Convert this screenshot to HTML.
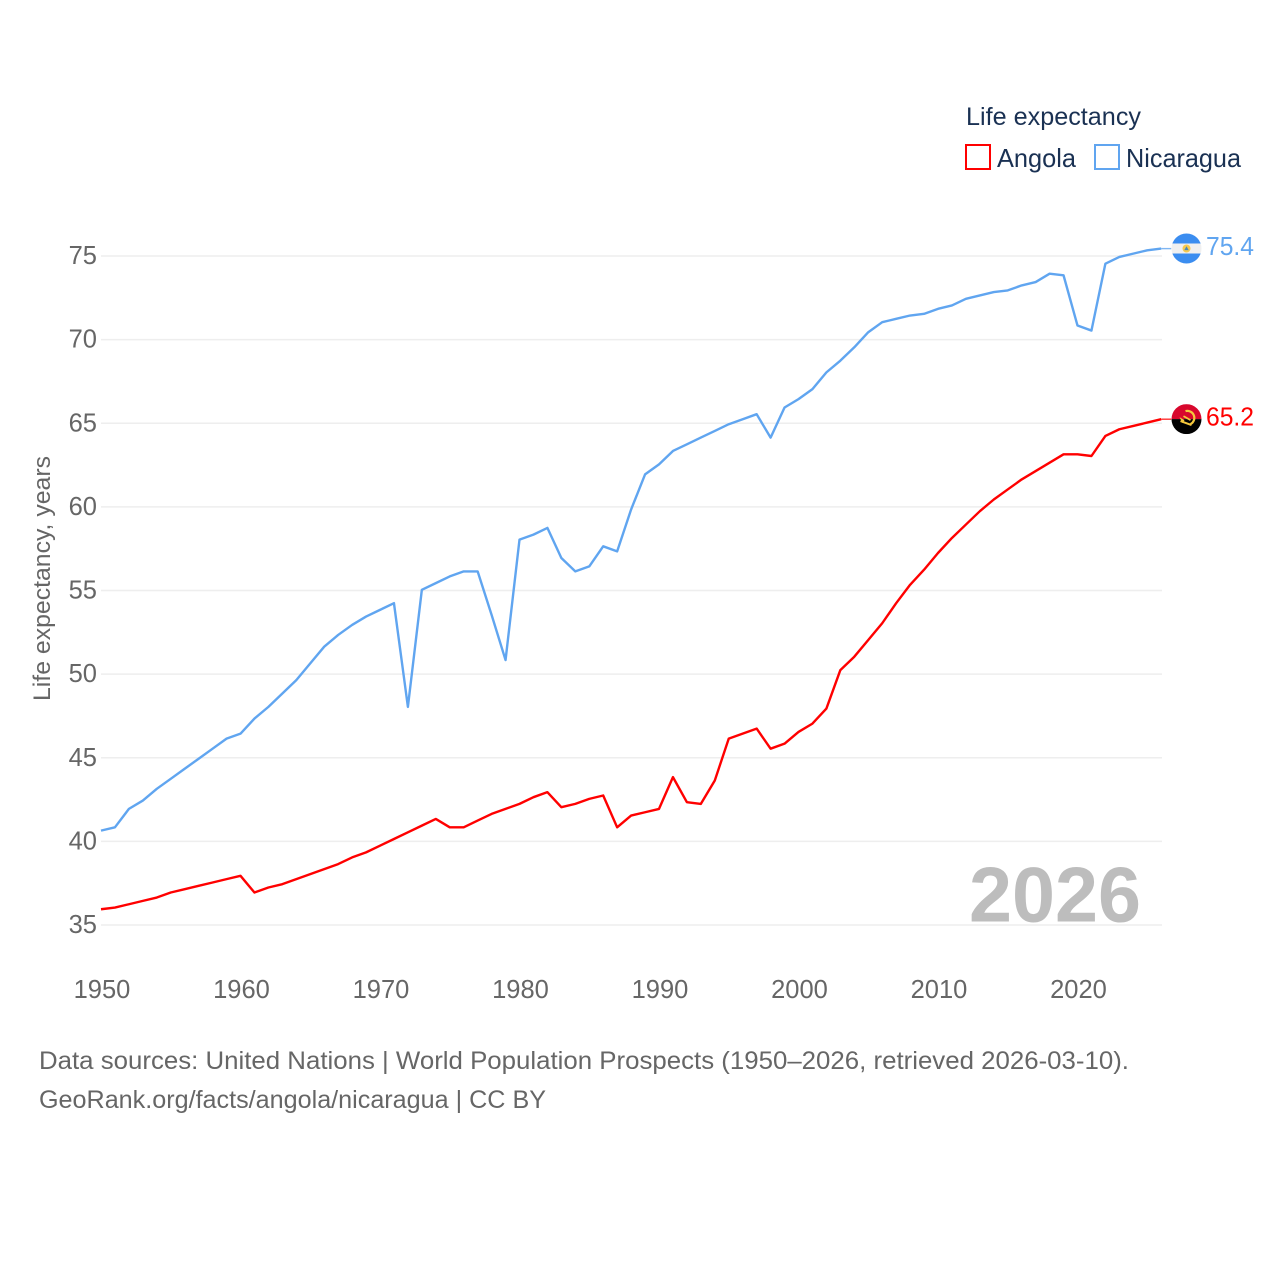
<!DOCTYPE html>
<html lang="en">
<head>
<meta charset="utf-8">
<title>Life expectancy: Angola and Nicaragua</title>
<style>
html,body{margin:0;padding:0;background:#fff;}
svg{display:block;font-family:"Liberation Sans",sans-serif;}
</style>
</head>
<body>
<svg id="chart" width="1280" height="1280" viewBox="0 0 1280 1280" xmlns="http://www.w3.org/2000/svg">
  <defs>
    <clipPath id="flag-clip"><circle cx="0" cy="0" r="15"></circle></clipPath>
  </defs>
  <rect x="0" y="0" width="1280" height="1280" fill="#ffffff"></rect>

  <g id="grid"></g>
  <g id="y-ticks"></g>
  <g id="x-ticks"></g>

  <text transform="translate(50,701) rotate(-90)" x="0" y="0" font-size="24.5" fill="#666666" textLength="245" lengthAdjust="spacingAndGlyphs">Life expectancy, years</text>

  <text x="969" y="921.5" font-size="78" font-weight="700" fill="#bdbdbd" textLength="172" lengthAdjust="spacingAndGlyphs">2026</text>

  <g id="series" transform="translate(0,-0.7)"></g>

  <g id="flag-nicaragua">
    <g clip-path="url(#flag-clip)">
      <rect x="-15" y="-15" width="30" height="10" fill="#3b8df0"></rect>
      <rect x="-15" y="-5" width="30" height="10" fill="#f0f0f0"></rect>
      <rect x="-15" y="5" width="30" height="10" fill="#3b8df0"></rect>
      <circle cx="0" cy="0" r="4" fill="#f5c94e"></circle>
      <polygon points="-2.2,1.6 2.2,1.6 0,-2.2" fill="#4a88b8"></polygon>
    </g>
  </g>
  <g id="flag-angola">
    <g clip-path="url(#flag-clip)">
      <rect x="-15" y="-15" width="30" height="15" fill="#d8072d"></rect>
      <rect x="-15" y="0" width="30" height="15" fill="#000000"></rect>
      <path d="M-1,-8 A7,7 0 0 1 4,5" fill="none" stroke="#f5c83c" stroke-width="2.2"></path>
      <path d="M-6,2 L5,6" fill="none" stroke="#f5c83c" stroke-width="2"></path>
      <path d="M-7,-2 L-2,1 L-4,4 Z" fill="#f5c83c"></path>
      <path d="M-3,-3 L4,1" fill="none" stroke="#f5c83c" stroke-width="1.8"></path>
    </g>
  </g>
  <g id="end-labels"></g>

  <g>
    <text x="966" y="125" font-size="25" fill="#1a3153" textLength="175" lengthAdjust="spacingAndGlyphs">Life expectancy</text>
    <g>
      <rect x="966" y="145" width="24" height="24" fill="none" stroke="#ff0000" stroke-width="2"></rect>
      <text x="997" y="167" font-size="26" fill="#1a3153" textLength="79" lengthAdjust="spacingAndGlyphs">Angola</text>
    </g>
    <g>
      <rect x="1095" y="145" width="24" height="24" fill="none" stroke="#60a5f0" stroke-width="2"></rect>
      <text x="1126" y="167" font-size="26" fill="#1a3153" textLength="115" lengthAdjust="spacingAndGlyphs">Nicaragua</text>
    </g>
  </g>

  <text x="39" y="1069" font-size="25" fill="#666666" textLength="1090" lengthAdjust="spacingAndGlyphs">Data sources: United Nations | World Population Prospects (1950–2026, retrieved 2026-03-10).</text>
  <text x="39" y="1108" font-size="25" fill="#666666" textLength="507" lengthAdjust="spacingAndGlyphs">GeoRank.org/facts/angola/nicaragua | CC BY</text>
</svg>

<script>
const firstYear = 1950;
const angolaValues = [35.9,36.0,36.2,36.4,36.6,36.9,37.1,37.3,37.5,37.7,37.9,36.9,37.2,37.4,37.7,38.0,38.3,38.6,39.0,39.3,39.7,40.1,40.5,40.9,41.3,40.8,40.8,41.2,41.6,41.9,42.2,42.6,42.9,42.0,42.2,42.5,42.7,40.8,41.5,41.7,41.9,43.8,42.3,42.2,43.6,46.1,46.4,46.7,45.5,45.8,46.5,47.0,47.9,50.2,51.0,52.0,53.0,54.2,55.3,56.2,57.2,58.1,58.9,59.7,60.4,61.0,61.6,62.1,62.6,63.1,63.1,63.0,64.2,64.6,64.8,65.0,65.2];
const nicaraguaValues = [40.6,40.8,41.9,42.4,43.1,43.7,44.3,44.9,45.5,46.1,46.4,47.3,48.0,48.8,49.6,50.6,51.6,52.3,52.9,53.4,53.8,54.2,48.0,55.0,55.4,55.8,56.1,56.1,53.5,50.8,58.0,58.3,58.7,56.9,56.1,56.4,57.6,57.3,59.8,61.9,62.5,63.3,63.7,64.1,64.5,64.9,65.2,65.5,64.1,65.9,66.4,67.0,68.0,68.7,69.5,70.4,71.0,71.2,71.4,71.5,71.8,72.0,72.4,72.6,72.8,72.9,73.2,73.4,73.9,73.8,70.8,70.5,74.5,74.9,75.1,75.3,75.4];
const yTickValues = [35,40,45,50,55,60,65,70,75];
const xTickValues = [1950,1960,1970,1980,1990,2000,2010,2020];

const svgNS = "http://www.w3.org/2000/svg";
function xScale(year){ return 101 + (year - 1950) * 13.95; }
function yScale(value){ return 925 - (value - 35) * 16.725; }
function make(tag, attrs, parent, text){
  const el = document.createElementNS(svgNS, tag);
  for (const k in attrs) el.setAttribute(k, attrs[k]);
  if (text !== undefined) el.textContent = text;
  parent.appendChild(el);
  return el;
}

const gridGroup = document.getElementById("grid");
const yTickGroup = document.getElementById("y-ticks");
yTickValues.forEach(function(v){
  const line = make("line", {x1:101, x2:1162, y1:yScale(v), y2:yScale(v), stroke:"#eeeeee", "stroke-width":1.5}, gridGroup);
  
  
  const label = make("text", {x:97, y:yScale(v)+8, "text-anchor":"end", "font-size":25.5, fill:"#666666"}, yTickGroup, String(v));
  
  
});

const xTickGroup = document.getElementById("x-ticks");
xTickValues.forEach(function(y){
  const label = make("text", {x:xScale(y)+1, y:998, "text-anchor":"middle", "font-size":25.5, fill:"#666666"}, xTickGroup, String(y));
  
  
});

function drawSeries(values, color, lineName, labelName, flagId){
  const seriesGroup = document.getElementById("series");
  const pts = values.map(function(v,i){ return xScale(firstYear+i).toFixed(2)+","+yScale(v).toFixed(2); }).join(" ");
  const line = make("polyline", {points:pts, fill:"none", stroke:color, "stroke-width":2.4, "stroke-linejoin":"round"}, seriesGroup);
  
  

  const last = values[values.length-1];
  const lastX = xScale(firstYear+values.length-1);
  const lastY = yScale(last);
  const connector = make("line", {x1:lastX, x2:lastX+10, y1:lastY, y2:lastY, stroke:color, "stroke-width":1.4, opacity:0.8}, seriesGroup);
  
  

  document.getElementById(flagId).setAttribute("transform", "translate(1186.5,"+(lastY-0.8)+")");

  const label = make("text", {x:1206, y:lastY+5.5, "font-size":25.5, fill:color, textLength:48, lengthAdjust:"spacingAndGlyphs"}, document.getElementById("end-labels"), last.toFixed(1));
  
  
}
drawSeries(angolaValues, "#ff0000", "angola-line", "angola-end-value", "flag-angola");
drawSeries(nicaraguaValues, "#60a5f0", "nicaragua-line", "nicaragua-end-value", "flag-nicaragua");
</script>
</body>
</html>
